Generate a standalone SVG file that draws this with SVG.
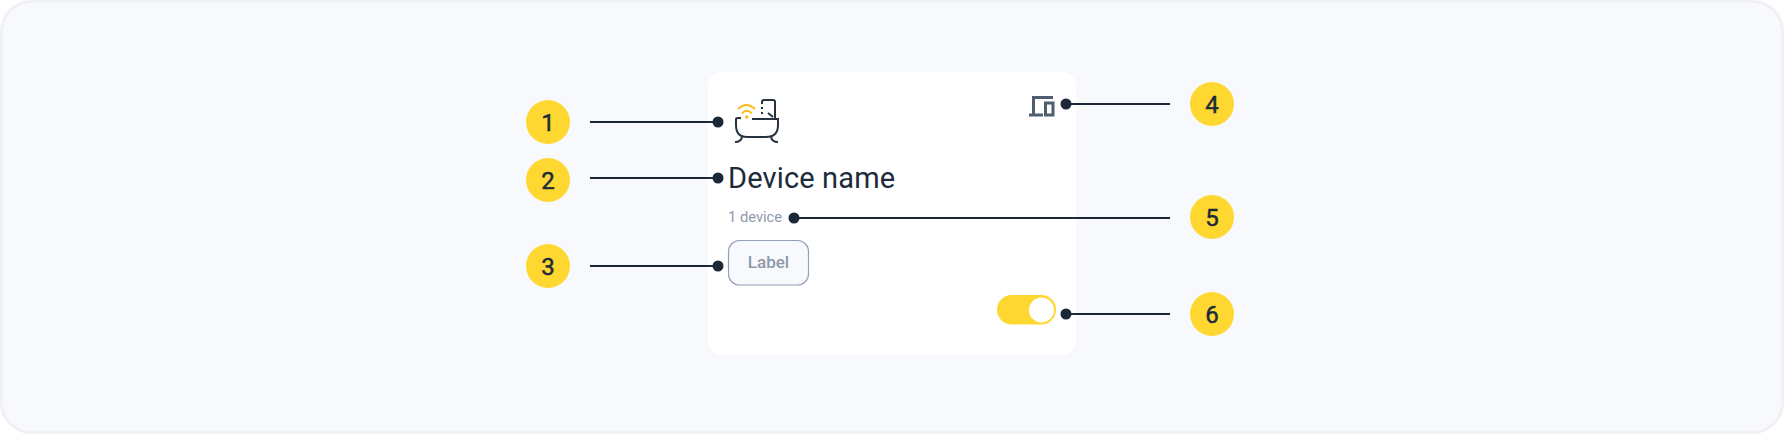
<svg xmlns="http://www.w3.org/2000/svg" width="1784" height="434" viewBox="0 0 1784 434">
<style>
.bub{fill:#ffd731}
.num{font:400 24px Roboto,"Liberation Sans",sans-serif;fill:#1c2a3a;text-anchor:middle;stroke:#1c2a3a;stroke-width:.45}
.ln{stroke:#1c2838;stroke-width:2;fill:none}
.dot{fill:#1c2838}
.ic{fill:none;stroke:#27323f;stroke-width:2}
.dev{fill:none;stroke:#4f5d70;stroke-width:3}
</style>
<g id="background"><rect x="1.5" y="1.5" width="1781" height="431" rx="30" fill="#f8f9fd" stroke="#f0f1f6" stroke-width="3"/></g>
<g id="card">
<rect x="708" y="72" width="368" height="283" rx="14" fill="#fff"/>
<g id="bath-icon">
<path class="ic" d="M762 104V102Q762 100 764 100H773Q775 100 775 102V118"/>
<path class="ic" d="M762 107V109M762 112V114M768 113L773 117"/>
<path class="ic" d="M752 119H778V125Q778 137 766 137H747Q736 137 736 125V119Q736 118 738 118H741"/>
<path class="ic" d="M742 137Q741 142 735 142M771 137Q772 142 778 142"/>
<g fill="none" stroke="#fdbd1f" stroke-width="2"><path d="M738 109Q746.500 101 755 109"/><path d="M742 113.500Q746.500 108 752 113.500"/></g>
<circle cx="746.700" cy="117" r="1.800" fill="#fdbd1f"/>
</g>
<g id="device-icon">
<path class="dev" d="M1053 97.500H1033.500V114"/>
<path d="M1029 115H1043" fill="none" stroke="#4f5d70" stroke-width="3"/>
<rect x="1045.500" y="103" width="7.500" height="12" class="dev"/>
</g>
<text x="728" y="188" font-family="Roboto,'Liberation Sans',sans-serif" font-size="29" letter-spacing=".15" fill="#1c2a3a">Device name</text>
<text x="728" y="222" font-family="Roboto,'Liberation Sans',sans-serif" font-size="14.700" fill="#8d99ab">1 device</text>
<g id="label-chip">
<rect x="728.500" y="240.500" width="80" height="44.500" rx="11" fill="#f8f9fd" stroke="#94a0b3" stroke-width="1.200"/>
<text x="768.500" y="267.500" text-anchor="middle" font-family="Roboto,'Liberation Sans',sans-serif" font-weight="500" font-size="17" fill="#8d99ab">Label</text>
</g>
<g id="toggle">
<rect x="997" y="295" width="59" height="29.500" rx="14.750" fill="#ffd731"/>
<circle cx="1041.500" cy="310" r="12.500" fill="#fff"/>
</g>
</g>
<g id="connectors">
<path class="ln" d="M590 122H718M590 178H718M590 266H718M1066 104H1170M794 218H1170M1066 314H1170"/>
<circle class="dot" cx="718" cy="122" r="5.500"/>
<circle class="dot" cx="718" cy="178" r="5.500"/>
<circle class="dot" cx="718" cy="266" r="5.500"/>
<circle class="dot" cx="1066" cy="104" r="5.500"/>
<circle class="dot" cx="794" cy="218" r="5.500"/>
<circle class="dot" cx="1066" cy="314" r="5.500"/>
</g>
<g id="n1"><circle class="bub" cx="548" cy="122" r="22"/><text class="num" x="548" y="130.500">1</text></g>
<g id="n2"><circle class="bub" cx="548" cy="180" r="22"/><text class="num" x="548" y="188.500">2</text></g>
<g id="n3"><circle class="bub" cx="548" cy="266" r="22"/><text class="num" x="548" y="274.500">3</text></g>
<g id="n4"><circle class="bub" cx="1212" cy="104" r="22"/><text class="num" x="1212" y="112.500">4</text></g>
<g id="n5"><circle class="bub" cx="1212" cy="217" r="22"/><text class="num" x="1212" y="225.500">5</text></g>
<g id="n6"><circle class="bub" cx="1212" cy="314" r="22"/><text class="num" x="1212" y="322.500">6</text></g>
</svg>
